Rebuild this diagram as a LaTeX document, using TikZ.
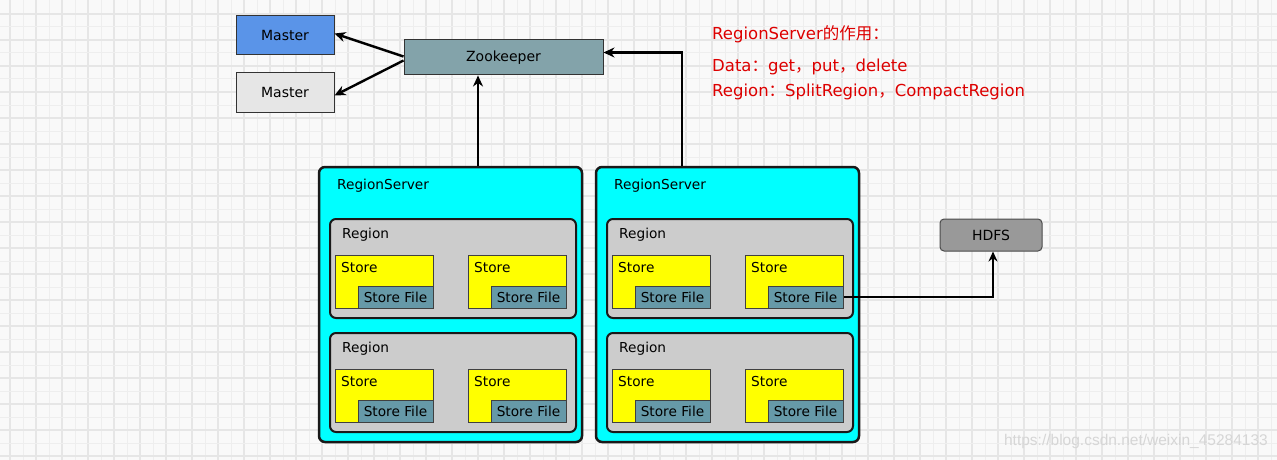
\documentclass[tikz,border=0pt]{standalone}
\usepackage{fontspec}
\setmainfont{DejaVu Sans}
\newfontfamily\cjk{Noto Sans CJK SC}
\newfontfamily\wmfont{Liberation Sans}
\usetikzlibrary{arrows.meta}
\definecolor{bgc}{HTML}{F9F9F9}
\definecolor{gridc}{HTML}{EEEEEE}
\definecolor{gridm}{HTML}{E6E6E6}
\definecolor{masterblue}{HTML}{5A94E8}
\definecolor{mastergray}{HTML}{E6E6E6}
\definecolor{zkc}{HTML}{83A3AA}
\definecolor{rsc}{HTML}{00FFFF}
\definecolor{regc}{HTML}{CCCCCC}
\definecolor{storec}{HTML}{FFFF00}
\definecolor{sfc}{HTML}{6699A8}
\definecolor{hdfsc}{HTML}{999999}
\definecolor{redt}{HTML}{DD0000}
\definecolor{wmc}{HTML}{D6D6D6}
\begin{document}
\begin{tikzpicture}[x=1pt,y=-1pt,
  txt/.style={font=\fontsize{14}{16}\selectfont},
  box/.style={draw=black!80, line width=1pt, inner sep=0pt, txt},
  rsbox/.style={draw=black!90, fill=rsc, line width=2.5pt, rounded corners=6pt, inner sep=0pt, minimum width=263pt, minimum height=275pt},
  regbox/.style={draw=black!90, fill=regc, line width=2pt, rounded corners=6pt, inner sep=0pt, minimum width=246pt, minimum height=99pt},
  storebox/.style={draw=black!75, fill=storec, line width=1pt, inner sep=0pt, minimum width=98pt, minimum height=53pt},
  sfbox/.style={draw=black!75, fill=sfc, line width=1pt, inner sep=0pt, minimum width=75pt, minimum height=22pt, font=\fontsize{13.7}{16}\selectfont},
  lbl/.style={anchor=west, inner sep=0pt, font=\fontsize{13.7}{16}\selectfont},
  redline/.style={anchor=base west, inner sep=0pt, text=redt, font=\fontsize{16.5}{19}\selectfont},
  arr/.style={draw=black, line width=2.4pt, -{Stealth[length=11pt,width=10pt]}},
  conn/.style={draw=black, line width=1.8pt, -{Stealth[length=10pt,width=9pt]}}
]
\useasboundingbox (0,0) rectangle (1277,460);
\fill[bgc] (0,0) rectangle (1277,460);
\foreach \x in {23,49,...,1277} \draw[gridc, line width=1pt] (\x,0) -- (\x,460);
\foreach \x in {10,36,...,1277} \draw[gridm, line width=1.3pt] (\x,0) -- (\x,460);
\foreach \y in {27,53,...,460} \draw[gridc, line width=1pt] (0,\y) -- (1277,\y);
\foreach \y in {14,40,...,460} \draw[gridm, line width=1.3pt] (0,\y) -- (1277,\y);

% top row
\node[box, fill=masterblue, minimum width=98pt, minimum height=39pt] (m1) at (285,35.5) {Master};
\node[box, fill=mastergray, minimum width=98pt, minimum height=39pt] (m2) at (285,92.5) {Master};
\node[box, fill=zkc, minimum width=199pt, minimum height=35pt] (zk) at (503.5,57.5) {Zookeeper};

% red text
\node[redline] (t1) at (712,40) {RegionServer{\cjk 的作用：}};
\node[redline] (t2) at (712,71.7) {Data{\cjk ：}get{\cjk ，}put{\cjk ，}delete};
\node[redline] (t3) at (712,96.7) {Region{\cjk ：}SplitRegion{\cjk ，}CompactRegion};

% region servers
\foreach \r/\dx in {1/0, 2/277} {
  \node[rsbox] (rs\r) at (450.5+\dx,304.5) {};
  \node[lbl] (rsl\r) at (337+\dx,186) {RegionServer};
  \foreach \g/\dy in {1/0, 2/114} {
    \node[regbox] (rg\r\g) at (453+\dx,268.5+\dy) {};
    \node[lbl] (rgl\r\g) at (342+\dx,235+\dy) {Region};
    \foreach \s/\sx in {1/0, 2/133} {
      \node[storebox] (st\r\g\s) at (384+\dx+\sx,281.5+\dy) {};
      \node[lbl] (stl\r\g\s) at (341+\dx+\sx,268+\dy) {Store};
      \node[sfbox] (sf\r\g\s) at (395.5+\dx+\sx,297+\dy) {Store File};
    }
  }
}

% HDFS
\node[box, fill=hdfsc, draw=black!70, rounded corners=4pt, minimum width=102pt, minimum height=32pt] (hdfs) at (991,235) {HDFS};

% connectors
\draw[arr] ([yshift=1pt]zk.west) -- ([yshift=2pt]m1.east);
\draw[arr] ([yshift=-3pt]zk.west) -- ([yshift=-3pt]m2.east);
\draw[arr] ([xshift=27.5pt]rs1.north) -- ([xshift=-25.5pt]zk.south);
\draw[arr] ([xshift=-45.5pt]rs2.north) |- ([yshift=5pt]zk.east);
\draw[conn] (sf212.east) -| ([xshift=2pt]hdfs.south);

% watermark
\node[anchor=east, inner sep=0pt, text=wmc, font=\wmfont\fontsize{15.5}{18}\selectfont] (wm) at (1268,441) {https://blog.csdn.net/weixin\_45284133};
\end{tikzpicture}
\end{document}
